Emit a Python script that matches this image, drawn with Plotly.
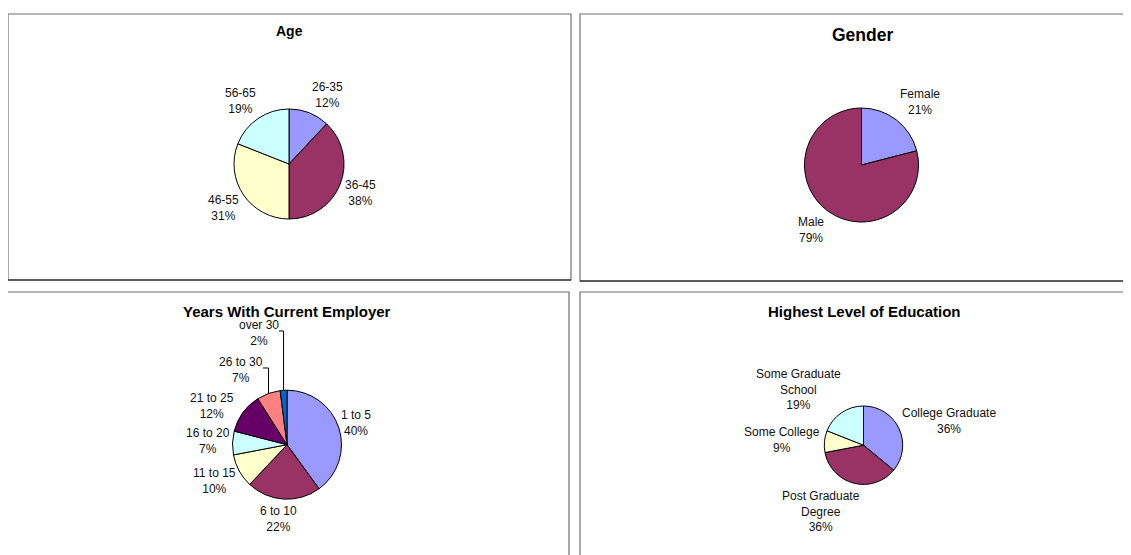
import math
import plotly.graph_objects as go

W, H = 1131, 555
OFF = 8  # default page body margin
FW, FH = W - OFF, H - OFF

# ---------------- data ----------------
age_labels = ["26-35", "36-45", "46-55", "56-65"]
age_values = [12, 38, 31, 19]

gender_labels = ["Female", "Male"]
gender_values = [21, 79]

years_labels = ["1 to 5", "6 to 10", "11 to 15", "16 to 20", "21 to 25", "26 to 30", "over 30"]
years_values = [40, 22, 10, 7, 12, 7, 2]

edu_labels = ["College Graduate", "Post Graduate Degree", "Some College", "Some Graduate School"]
edu_values = [36, 36, 9, 19]

# ---------------- styles / layout ----------------
C_BLUE = "#9999FF"
C_PLUM = "#993366"
C_IVORY = "#FFFFCC"
C_CYAN = "#CCFFFF"
C_PURPLE = "#660066"
C_CORAL = "#FF8080"
C_OCEAN = "#0066CC"

age_colors = [C_BLUE, C_PLUM, C_IVORY, C_CYAN]
gender_colors = [C_BLUE, C_PLUM]
years_colors = [C_BLUE, C_PLUM, C_IVORY, C_CYAN, C_PURPLE, C_CORAL, C_OCEAN]
edu_colors = [C_BLUE, C_PLUM, C_IVORY, C_CYAN]

wrap = {"Post Graduate Degree": "Post Graduate<br>Degree",
        "Some Graduate School": "Some Graduate<br>School"}

LABEL_FONT = dict(family="Liberation Sans, Arial, sans-serif", size=12, color="#111111")
TITLE_FAMILY = "Liberation Sans, Arial, sans-serif"


def X(px):
    return (px - OFF) / FW


def Y(py):
    return 1 - (py - OFF) / FH


charts = [
    dict(title="Age", tsize=14, tpos=(289, 31), center=(289, 164), r=55,
         labels=age_labels, values=age_values, colors=age_colors,
         lpos={"26-35": (327, 95), "36-45": (360, 193), "46-55": (223, 208), "56-65": (240, 101)}),
    dict(title="Gender", tsize=17.5, tpos=(862, 35), center=(861.5, 165), r=57,
         labels=gender_labels, values=gender_values, colors=gender_colors,
         lpos={"Female": (920, 102), "Male": (811, 230)}),
    dict(title="Years With Current Employer", tsize=15, tpos=(287, 311), center=(287, 444.7), r=54.5,
         labels=years_labels, values=years_values, colors=years_colors,
         lpos={"1 to 5": (356, 423), "6 to 10": (278.5, 519), "11 to 15": (214, 481),
               "16 to 20": (208, 441), "21 to 25": (212, 406), "26 to 30": (241, 370),
               "over 30": (259, 333)},
         leaders={"26 to 30": 263, "over 30": 279}),
    dict(title="Highest Level of Education", tsize=15, tpos=(864, 311), center=(863.5, 445.2), r=39.2,
         labels=edu_labels, values=edu_values, colors=edu_colors,
         lpos={"College Graduate": (949, 421), "Post Graduate Degree": (821, 511),
               "Some College": (782, 440), "Some Graduate School": (798, 389)}),
]

fig = go.Figure()
annotations = []
shapes = []

# panel borders
panels = [(8, 14, 571, 280), (580, 14, 1140, 281), (7, 292, 569, 570), (580, 292, 1140, 570)]
for (x0, y0, x1, y1) in panels:
    shapes.append(dict(type="rect", xref="paper", yref="paper",
                       x0=X(x0), x1=X(x1), y0=Y(y1), y1=Y(y0),
                       line=dict(color="#707070", width=1.2), fillcolor="rgba(0,0,0,0)", layer="below"))
    shapes.append(dict(type="line", xref="paper", yref="paper",
                       x0=X(x0), x1=X(x1), y0=Y(y1), y1=Y(y1),
                       line=dict(color="#000000", width=1)))

for ch in charts:
    cx, cy = ch["center"]
    r = ch["r"]
    fig.add_trace(go.Pie(
        labels=ch["labels"], values=ch["values"], sort=False, direction="clockwise", rotation=0,
        marker=dict(colors=ch["colors"], line=dict(color="#000000", width=1)),
        textinfo="none", showlegend=False, hole=0,
        domain=dict(x=[X(cx - r), X(cx + r)], y=[Y(cy + r), Y(cy - r)]),
    ))
    annotations.append(dict(text="<b>%s</b>" % ch["title"], x=X(ch["tpos"][0]), y=Y(ch["tpos"][1]),
                            xref="paper", yref="paper", showarrow=False, xanchor="center", yanchor="middle",
                            font=dict(family=TITLE_FAMILY, size=ch["tsize"], color="#000000")))
    total = sum(ch["values"])
    cum = 0
    for lab, v in zip(ch["labels"], ch["values"]):
        pct = round(100 * v / total)
        lx, ly = ch["lpos"][lab]
        annotations.append(dict(text="%s<br>%d%%" % (wrap.get(lab, lab), pct), x=X(lx), y=Y(ly),
                                xref="paper", yref="paper", showarrow=False, align="center",
                                xanchor="center", yanchor="middle", font=LABEL_FONT))
        mid = (cum + v / 2) / total * 2 * math.pi
        cum += v
        if "leaders" in ch and lab in ch["leaders"]:
            ex = cx + r * math.sin(mid)
            ey = cy - r * math.cos(mid)
            sx = ch["leaders"][lab]
            sy = ly - 2
            path = "M %f %f L %f %f L %f %f" % (X(sx), Y(sy), X(ex), Y(sy), X(ex), Y(ey))
            shapes.append(dict(type="path", xref="paper", yref="paper", path=path,
                               line=dict(color="#000000", width=1)))

fig.update_layout(
    width=FW, height=FH, margin=dict(l=0, r=0, t=0, b=0),
    paper_bgcolor="#FFFFFF", plot_bgcolor="#FFFFFF",
    annotations=annotations, shapes=shapes,
)

fig.write_html("out.html")
